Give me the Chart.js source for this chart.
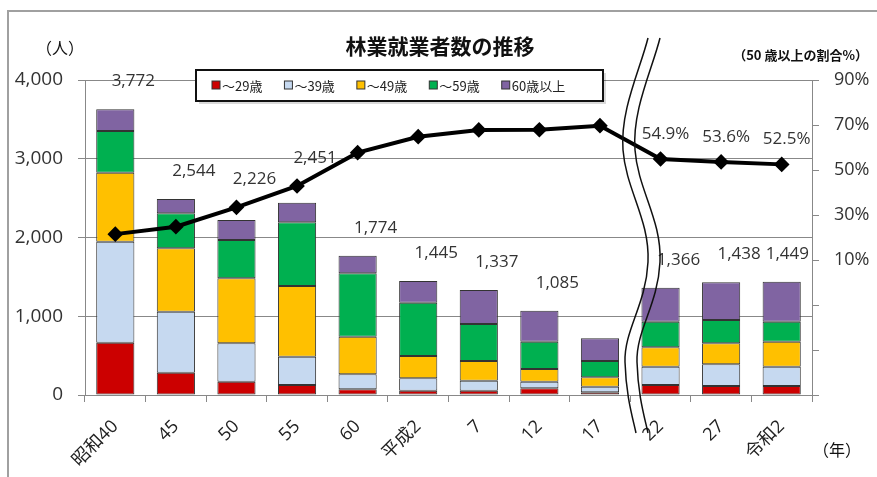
<!DOCTYPE html>
<html>
<head>
<meta charset="utf-8">
<script src="https://cdn.jsdelivr.net/npm/chart.js@4.4.1/dist/chart.umd.min.js"></script>
<style>
    html, body {margin: 0; padding: 0; background: white;}
    #wrap {width: 877px; height: 477px;}
</style>
</head>
<body>
<div id="wrap"><canvas id="forestChart" width="877" height="477"></canvas></div>
<script>

// Data

var categories = ['昭和40', '45', '50', '55', '60', '平成2', '7', '12', '17', '22', '27', '令和2'];
var ageLabels = ['～29歳', '～39歳', '～49歳', '～59歳', '60歳以上'];

var age29 = [664, 283, 169, 127, 72, 55, 55, 85, 34, 127, 114, 114];
var age39 = [1283, 775, 488, 359, 191, 157, 127, 84, 71, 233, 276, 246];
var age49 = [876, 805, 825, 898, 477, 283, 250, 161, 120, 245, 267, 317];
var age59 = [529, 444, 487, 809, 805, 677, 470, 347, 207, 326, 296, 254];
var age60 = [276, 182, 254, 249, 224, 276, 432, 394, 288, 432, 478, 508];

var totals = [3772, 2544, 2226, 2451, 1774, 1445, 1337, 1085, null, 1366, 1438, 1449];

var over50 = [21.5, 24.8, 33.4, 42.9, 57.7, 64.8, 67.8, 67.9, 69.7, 54.9, 53.6, 52.5];
var over50Labels = ['', '', '', '', '', '', '', '', '', '54.9%', '53.6%', '52.5%'];

var leftTicks = [0, 1000, 2000, 3000, 4000];
var rightTicks = [-50, -30, -10, 10, 30, 50, 70, 90];

var colors = ['#cc0000', '#c6d9f0', '#ffc000', '#00b050', '#8064a2'];

var NUM_FONT = "'Open Sans', 'Noto Sans CJK JP', sans-serif";
var JP_FONT = "'Noto Sans CJK JP', sans-serif";


// Extra drawing: frame, titles, labels, legend box, break lines

var decorPlugin = {
    id: 'decor',
    afterDraw: function(chart) {
        var ctx = chart.ctx;
        ctx.save();

        // frame
        ctx.strokeStyle = '#a0a0a0';
        ctx.lineWidth = 2;
        ctx.beginPath();
        ctx.moveTo(877, 11);
        ctx.lineTo(8, 11);
        ctx.lineTo(8, 477);
        ctx.stroke();

        // titles
        ctx.fillStyle = '#111';
        ctx.textAlign = 'center';
        ctx.textBaseline = 'middle';
        ctx.font = 'bold 21px ' + JP_FONT;
        ctx.fillText('林業就業者数の推移', 440, 46);
        ctx.font = '16px ' + JP_FONT;
        ctx.fillText('（人）', 60, 48);
        ctx.fillText('（年）', 837, 450);
        ctx.font = 'bold 13px ' + JP_FONT;
        ctx.textAlign = 'right';
        ctx.fillText('（50 歳以上の割合%）', 868, 55);

        // totals above bars (kept clear of the line when it runs just above)
        var top = chart.getDatasetMeta(4);
        var line = chart.getDatasetMeta(5);
        var right = chart.chartArea.right;
        ctx.font = '17px ' + NUM_FONT;
        ctx.textAlign = 'center';
        ctx.fillStyle = '#333';
        for (var i = 0; i < totals.length; i++) {
            if (totals[i] == null) {
                continue;}
            var bar = top.data[i];
            var txt = totals[i].toLocaleString('en-US');
            var half = ctx.measureText(txt).width / 2;
            var y = bar.y;
            var ly = line.data[i].y;
            if (bar.y - ly < 50) {
                y = Math.min(bar.y, ly);}
            var tx = Math.min(bar.x + 18, right - 3 - half);
            ctx.fillText(txt, tx, y - 28);
        }

        // percent labels on line
        for (var j = 0; j < over50Labels.length; j++) {
            if (!over50Labels[j]) {
                continue;}
            var pt = line.data[j];
            ctx.fillText(over50Labels[j], pt.x + 5, pt.y - 25);
        }

        // break lines
        ctx.strokeStyle = '#111';
        ctx.lineWidth = 1.5;
        for (var k = 0; k < 2; k++) {
            var d = k * 12;
            ctx.beginPath();
            ctx.moveTo(648 + d, 38);
            ctx.bezierCurveTo(640 + d, 70, 620 + d, 110, 623 + d, 150);
            ctx.bezierCurveTo(626 + d, 190, 650 + d, 220, 648 + d, 262);
            ctx.bezierCurveTo(646 + d, 305, 624 + d, 330, 625 + d, 362);
            ctx.bezierCurveTo(626 + d, 395, 632 + d, 415, 636 + d, 433);
            ctx.stroke();
        }

        // legend box
        ctx.fillStyle = 'rgba(0,0,0,0.15)';
        ctx.fillRect(199, 73, 407, 31);
        ctx.fillStyle = 'white';
        ctx.fillRect(196, 70, 407, 31);
        ctx.strokeStyle = '#111';
        ctx.lineWidth = 2;
        ctx.strokeRect(196, 70, 407, 31);

        ctx.font = '13px ' + JP_FONT;
        ctx.textAlign = 'left';
        var x = 212;
        for (var s = 0; s < ageLabels.length; s++) {
            ctx.fillStyle = colors[s];
            ctx.fillRect(x, 81, 8, 8);
            ctx.strokeStyle = '#333';
            ctx.lineWidth = 1;
            ctx.strokeRect(x, 81, 8, 8);
            ctx.fillStyle = '#222';
            ctx.fillText(ageLabels[s], x + 10, 86);
            x += 10 + ctx.measureText(ageLabels[s]).width + 22;
        }

        ctx.restore();
    }
};


// Chart

function bar_set(label, data, color) {
    return {
        type: 'bar',
        label: label,
        data: data,
        backgroundColor: color,
        borderColor: '#333',
        borderWidth: 1,
        borderSkipped: false,
        barPercentage: 0.63,
        categoryPercentage: 1.0,
        yAxisID: 'y',
        order: 1,
    };
}

var ctx = document.getElementById('forestChart').getContext('2d');

var chart_object = new Chart(ctx, {
    data: {
        labels: categories,
        datasets: [
            bar_set(ageLabels[0], age29, colors[0]),
            bar_set(ageLabels[1], age39, colors[1]),
            bar_set(ageLabels[2], age49, colors[2]),
            bar_set(ageLabels[3], age59, colors[3]),
            bar_set(ageLabels[4], age60, colors[4]),
            {
                type: 'line',
                label: '50歳以上の割合',
                data: over50,
                yAxisID: 'y2',
                borderColor: '#000',
                borderWidth: 4,
                pointStyle: 'rectRot',
                pointRadius: 5,
                pointBackgroundColor: '#000',
                pointBorderColor: '#000',
                order: 0,
            },
        ],
    },

    options: {
        responsive: false,
        animation: false,
        layout: {padding: {top: 80, left: 0, right: 0, bottom: 0}},

        scales: {
            x: {
                stacked: true,
                offset: true,
                border: {color: '#888'},
                grid: {offset: true, drawOnChartArea: false, tickLength: 7, color: '#888'},
                ticks: {
                    minRotation: 45,
                    maxRotation: 45,
                    autoSkip: false,
                    padding: 14,
                    color: '#222',
                    font: {size: 18, family: NUM_FONT},},
                afterFit: function(s) { s.height = 82; },},
            y: {
                stacked: true,
                position: 'left',
                min: leftTicks[0],
                max: leftTicks[leftTicks.length - 1],
                border: {color: '#888'},
                grid: {color: '#888', tickLength: 7},
                afterBuildTicks: function(s) {
                    s.ticks = leftTicks.map(function(v) { return {value: v}; }); },
                ticks: {
                    padding: 15,
                    color: '#333',
                    font: {size: 19, family: NUM_FONT},
                    callback: function(v) { return v.toLocaleString('en-US'); },},
                afterFit: function(s) { s.width = 85; },},
            y2: {
                position: 'right',
                min: rightTicks[0],
                max: rightTicks[rightTicks.length - 1],
                border: {color: '#888'},
                grid: {drawOnChartArea: false, tickLength: 7, color: '#888'},
                afterBuildTicks: function(s) {
                    s.ticks = rightTicks.map(function(v) { return {value: v}; }); },
                ticks: {
                    padding: 15,
                    color: '#333',
                    font: {size: 18, family: NUM_FONT},
                    callback: function(v) { return v >= 10 ? v + '%' : ''; },},
                afterFit: function(s) { s.width = 65; },},
        },

        plugins: {
            legend: {display: false},
            tooltip: {enabled: false},
            title: {display: false},
        },
    },
    plugins: [decorPlugin],
});

</script>
</body>
</html>
